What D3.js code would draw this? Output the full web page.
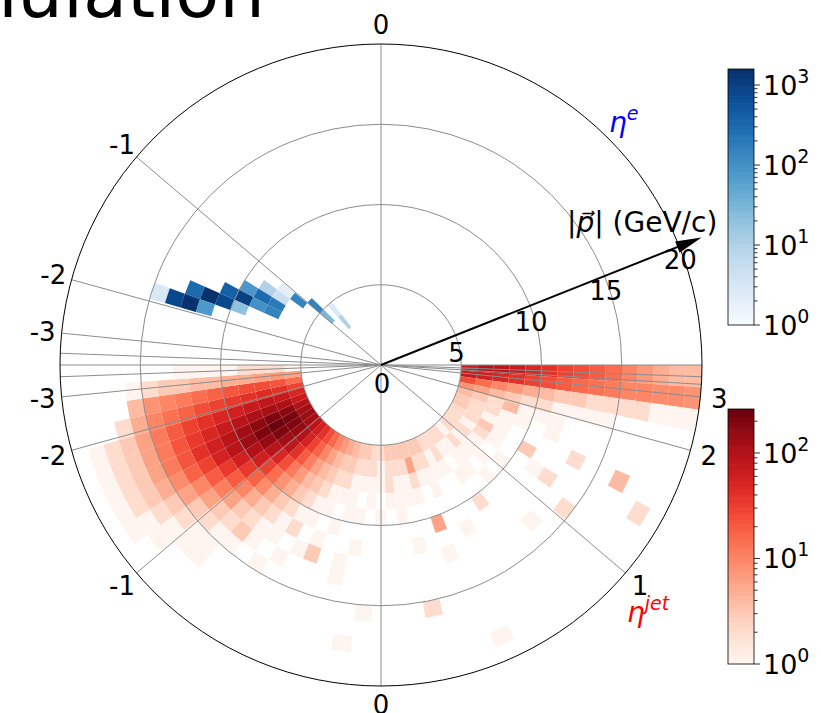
<!DOCTYPE html>
<meta charset="utf-8">
<script src="https://d3js.org/d3.v7.min.js"></script>
<style>
  body { margin: 0; background: #fff; }
  text { font-family: "DejaVu Sans", sans-serif; }
</style>
<div id="chart"></div>
<script>
// ---- data ----
// polar-angle bins (degrees, theta = 2*atan(exp(-eta))), momentum bins (GeV/c)
const thetaStep = 4;
const jetPEdges = [5,6,7,8,9,10,11,12,13,14,15,16,17,18,19,20];
// jet counts, one row per theta bin starting at theta = 0 (eta = +inf)
const jetCounts = [
  [60,100,90,70,50,40,30,25,20,15,10,7,5,4,4],
  [70,60,50,40,30,25,20,16,14,12,10,10,9,9,8],
  [25,15,10,7,5,4,3,3,2,2,2,2,1,1,1],
  [8,6,4,3,2,2,1,1,1,1,0,0,0,0,0],
  [4,3,2,4,1,1,1,0,0,0,0,0,0,0,0],
  [3,2,2,1,1,0,1,0,0,0,0,0,0,0,0],
  [3,2,1,1,0,0,0,0,2,0,0,4,0,0,0],
  [2,2,3,1,0,3,0,0,0,0,0,0,0,2,0],
  [2,1,2,1,0,0,1,2,0,0,0,0,0,0,0],
  [2,2,1,0,1,0,0,0,0,2,0,0,0,0,0],
  [2,1,1,1,0,0,0,0,0,0,0,0,0,0,0],
  [1,2,1,0,1,0,0,0,1,0,0,0,0,0,0],
  [2,1,1,1,0,0,0,0,0,0,0,0,0,0,0],
  [2,1,0,1,0,2,0,0,0,0,0,0,0,0,0],
  [2,2,1,0,0,0,0,0,0,0,0,0,0,0,0],
  [2,1,1,0,0,0,1,0,0,0,0,0,0,0,0],
  [3,2,1,1,0,0,0,0,0,0,0,0,0,1,0],
  [3,2,1,0,0,6,0,1,0,0,0,0,0,0,0],
  [3,6,2,1,0,0,0,0,0,0,0,0,0,0,0],
  [3,2,1,1,0,0,1,0,0,0,2,0,0,0,0],
  [3,2,1,1,1,0,0,0,0,0,0,0,0,0,0],
  [3,2,2,1,0,0,0,0,0,0,0,0,0,0,0],
  [2,1,1,0,1,0,0,0,0,0,0,0,0,0,0],
  [2,2,1,1,0,0,0,0,0,0,1,0,0,0,0],
  [3,2,1,0,1,0,1,0,0,0,0,0,1,0,0],
  [3,2,1,1,1,0,0,1,1,0,0,0,0,0,0],
  [4,3,2,1,0,1,0,0,0,0,0,0,0,0,0],
  [5,3,2,1,1,0,1,3,0,0,0,0,0,0,0],
  [7,4,3,2,1,1,0,1,0,0,0,0,0,0,0],
  [10,6,4,3,2,1,2,0,1,0,0,0,0,0,0],
  [16,10,6,4,3,2,1,1,0,1,0,0,0,0,0],
  [25,18,11,7,5,3,2,1,1,0,0,0,0,0,0],
  [40,30,20,12,8,5,3,2,3,1,0,0,0,0,0],
  [60,55,40,25,15,9,5,3,2,1,1,1,0,0,0],
  [90,100,80,50,30,18,10,6,3,2,1,1,0,0,0],
  [120,150,130,90,60,35,20,11,6,3,2,1,1,0,0],
  [140,200,200,150,100,60,35,20,10,6,3,2,1,1,0],
  [130,220,250,200,140,90,55,30,18,9,5,3,2,1,0],
  [100,170,200,170,130,90,60,40,22,12,6,3,2,1,0],
  [70,110,120,110,90,70,50,35,22,12,6,3,2,1,0],
  [50,70,80,70,60,50,40,30,20,12,6,3,2,1,0],
  [30,40,45,40,35,30,25,18,14,10,5,2,0,0,0],
  [15,22,25,25,22,18,15,12,10,8,4,0,0,0,0],
  [6,7,6,5,5,4,4,3,3,2,1,0,0,0,0],
  [1,2,2,2,1,1,1,1,0,0,0,0,0,0,0]
];
// electron cells: [theta low (deg), p low (GeV/c), counts]
const eleCells = [
  [160,14,3],[160,13,800],[156,12,300],[160,12,1500],[156,11,1500],[160,11,80],
  [152,10,400],[156,10,800],[148,9,80],[152,9,1000],[156,9,20],
  [144,8,10],[148,8,300],[152,8,100],[144,7,5],[148,7,200],[152,7,150],[140,7,2],
  [140,6,150],[136,5,150],[136,4,30],[128,4,3],[128,3,10]
];
const jetVmax = 261, eleVmax = 1585;
const rTicks = [0,5,10,15,20];
const eleEtaGrid = [0,-1,-2,-3,-4];
const jetEtaGrid = [-4,-3,-2,-1,0,1,2,3,3.5,4];
const eleEtaLabels = [0,-1,-2,-3];
const jetEtaLabels = [-3,-2,-1,0,1,2,3];

// ---- layout ----
const W = 821, H = 713;
const cx = 381, cy = 365, R = 321;
const svg = d3.select("#chart").append("svg").attr("width", W).attr("height", H);

const r = d3.scaleLinear().domain([0, 20]).range([0, R]);
const jetColor = d3.scaleSequentialLog(d3.interpolateReds).domain([1, jetVmax]);
const eleColor = d3.scaleSequentialLog(d3.interpolateBlues).domain([1, eleVmax]);
const rad = Math.PI / 180;
const thetaOf = eta => 2 * Math.atan(Math.exp(-eta)) / rad;

// title (mostly outside the frame)
svg.append("text").attr("x", 265).attr("y", 17).attr("text-anchor", "end")
  .style("font-size", "72px").text("Simulation");

const g = svg.append("g").attr("transform", `translate(${cx},${cy})`);
const arc = d3.arc();

// jets: lower half, angle measured from +x going clockwise (screen)
jetCounts.forEach((row, i) => {
  row.forEach((c, j) => {
    if (c <= 0) return;
    g.append("path")
      .attr("d", arc({
        innerRadius: r(jetPEdges[j]), outerRadius: r(jetPEdges[j + 1]),
        startAngle: (90 + i * thetaStep) * rad, endAngle: (90 + (i + 1) * thetaStep) * rad
      }))
      .attr("fill", jetColor(c));
  });
});

// electrons: upper half
eleCells.forEach(d => {
  g.append("path")
    .attr("d", arc({
      innerRadius: r(d[1]), outerRadius: r(d[1] + 1),
      startAngle: (90 - d[0] - thetaStep) * rad, endAngle: (90 - d[0]) * rad
    }))
    .attr("fill", eleColor(d[2]));
});

// grid circles
[5, 10, 15].forEach(v => {
  g.append("circle").attr("r", r(v)).attr("fill", "none")
    .attr("stroke", "#8c8c8c").attr("stroke-width", 1);
});

// radial grid lines
function ray(a) { // a = screen angle in degrees, 0 = +x, positive = down
  g.append("line").attr("x1", 0).attr("y1", 0)
    .attr("x2", R * Math.cos(a * rad)).attr("y2", R * Math.sin(a * rad))
    .attr("stroke", "#8c8c8c").attr("stroke-width", 1);
}
eleEtaGrid.forEach(e => ray(-thetaOf(e)));
ray(-180);
jetEtaGrid.forEach(e => ray(thetaOf(e)));
ray(0);

g.append("circle").attr("r", R).attr("fill", "none").attr("stroke", "#000").attr("stroke-width", 1);

// angle labels
const labR = 340;
eleEtaLabels.forEach(e => {
  const a = -thetaOf(e) * rad;
  g.append("text").attr("x", labR * Math.cos(a)).attr("y", labR * Math.sin(a))
    .attr("text-anchor", "middle").attr("dy", "0.36em").style("font-size", "26px").text(e);
});
jetEtaLabels.forEach(e => {
  const a = thetaOf(e) * rad;
  g.append("text").attr("x", labR * Math.cos(a)).attr("y", labR * Math.sin(a))
    .attr("text-anchor", "middle").attr("dy", "0.36em").style("font-size", "26px").text(e);
});

// momentum arrow and its tick labels
const arrAng = -21.7 * rad, arrLen = 345;
const ax = arrLen * Math.cos(arrAng), ay = arrLen * Math.sin(arrAng);
g.append("line").attr("x1", 0).attr("y1", 0).attr("x2", ax - 10 * Math.cos(arrAng)).attr("y2", ay - 10 * Math.sin(arrAng))
  .attr("stroke", "#000").attr("stroke-width", 2);
g.append("path")
  .attr("d", "M0,0 L-26,-6 L-26,6 Z")
  .attr("transform", `translate(${ax},${ay}) rotate(${arrAng / rad})`)
  .attr("fill", "#000");

rTicks.forEach(v => {
  g.append("text")
    .attr("x", r(v) * Math.cos(arrAng) + 1)
    .attr("y", r(v) * Math.sin(arrAng) + 19 - v * 0.3)
    .attr("text-anchor", "middle").attr("dy", "0.36em")
    .style("font-size", "26px").text(v);
});

const pl = svg.append("text").attr("x", 567).attr("y", 232).style("font-size", "28px");
pl.append("tspan").text("|");
pl.append("tspan").style("font-style", "italic").text("p\u20D7");
pl.append("tspan").text("| (GeV/c)");

// eta labels for the two halves
const et = svg.append("text").attr("x", 609).attr("y", 132).attr("fill", "#0000ff").style("font-size", "28px");
et.append("tspan").style("font-style", "italic").text("η");
et.append("tspan").attr("dy", -12).style("font-size", "19px").style("font-style", "italic").text("e");
const jt = svg.append("text").attr("x", 627).attr("y", 622).attr("fill", "#ff0000").style("font-size", "28px");
jt.append("tspan").style("font-style", "italic").text("η");
jt.append("tspan").attr("dy", -12).style("font-size", "19px").style("font-style", "italic").text("jet");

// colour bars
function colorbar(y0, y1, color, vmax) {
  const x0 = 728, bw = 26;
  const s = d3.scaleLog().domain([1, vmax]).range([y1, y0]);
  const n = 60;
  const cb = svg.append("g");
  d3.range(n).forEach(k => {
    const v0 = Math.pow(vmax, k / n), v1 = Math.pow(vmax, (k + 1) / n);
    cb.append("rect").attr("x", x0).attr("y", s(v1)).attr("width", bw)
      .attr("height", s(v0) - s(v1) + 0.6).attr("fill", color(Math.sqrt(v0 * v1)));
  });
  cb.append("rect").attr("x", x0).attr("y", y0).attr("width", bw).attr("height", y1 - y0)
    .attr("fill", "none").attr("stroke", "#000").attr("stroke-width", 0.8);
  s.ticks().forEach(t => {
    const major = Math.abs(Math.log10(t) - Math.round(Math.log10(t))) < 1e-9;
    cb.append("line").attr("x1", x0 + bw).attr("x2", x0 + bw + (major ? 6 : 3.5))
      .attr("y1", s(t)).attr("y2", s(t)).attr("stroke", "#000").attr("stroke-width", 0.8);
    if (major) {
      const tx = cb.append("text").attr("x", x0 + bw + 9).attr("y", s(t) + 10).style("font-size", "27px");
      tx.append("tspan").text("10");
      tx.append("tspan").attr("dy", -12).style("font-size", "19px").text(Math.round(Math.log10(t)));
    }
  });
}
colorbar(69, 325, eleColor, eleVmax);
colorbar(409, 664, jetColor, jetVmax);
</script>
